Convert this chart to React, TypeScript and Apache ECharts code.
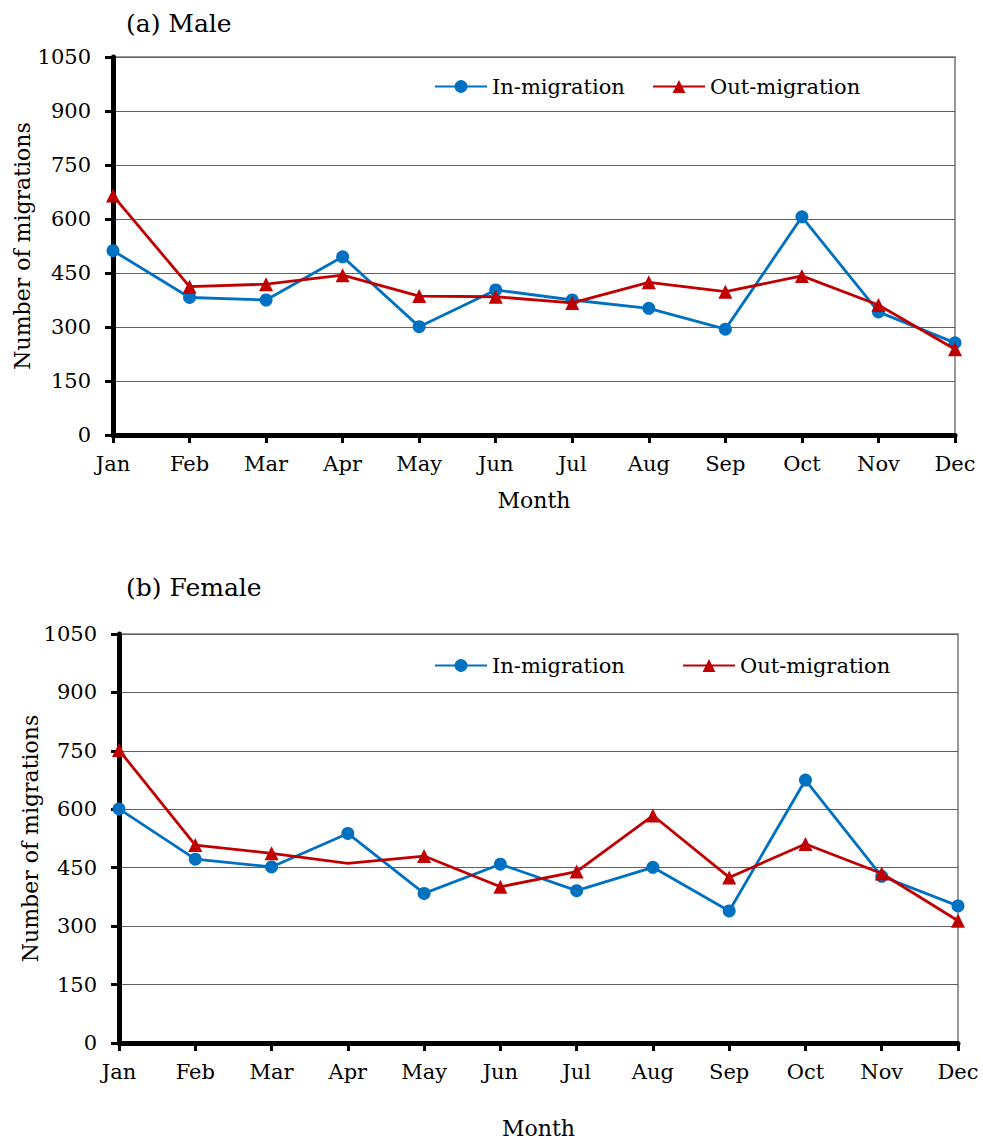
import React, { useEffect, useRef } from "react";
import * as echarts from "echarts";

const months = ["Jan", "Feb", "Mar", "Apr", "May", "Jun", "Jul", "Aug", "Sep", "Oct", "Nov", "Dec"];
const maleIn = [512, 382, 375, 495, 301, 403, 375, 352, 294, 606, 342, 256];
const maleOut = [665, 412, 419, 444, 386, 384, 367, 424, 398, 442, 361, 238];
const femaleIn = [601, 472, 452, 538, 384, 459, 391, 451, 339, 675, 428, 352];
const femaleOut = [752, 508, 487, 461, 480, 401, 440, 584, 425, 511, 435, 314];
const femaleOutNoMarker = ["Apr"];
const yMin = 0;
const yMax = 1050;
const yStep = 150;

const FONT = "DejaVu Serif";
const BLUE = "#0070C0";
const RED = "#C00000";

export default function App() {
  const ref = useRef<HTMLDivElement>(null);
  useEffect(() => {
    if (!ref.current) return;
    const chart = echarts.init(ref.current, null, { renderer: "svg" });
    const grids = [
      { left: 113, top: 57, width: 842, height: 378 },
      { left: 119, top: 634, width: 839, height: 409 },
    ];
    const xAxis = grids.map((_, i) => ({
      type: "category",
      gridIndex: i,
      data: months,
      boundaryGap: false,
      name: "Month",
      nameLocation: "middle",
      nameGap: i === 0 ? 54 : 74,
      nameMoveOverlap: false,
      nameTextStyle: { fontFamily: FONT, fontSize: 22, color: "#000" },
      axisLine: { show: true, lineStyle: { color: "#000", width: 5 } },
      axisTick: { show: true, alignWithLabel: true, length: 8, lineStyle: { color: "#000", width: 3 } },
      axisLabel: { fontFamily: FONT, fontSize: 21, color: "#000", margin: 18 },
      splitLine: { show: false },
    }));
    const yAxis = grids.map((_, i) => ({
      type: "value",
      gridIndex: i,
      min: yMin,
      max: yMax,
      interval: yStep,
      name: "Number of migrations",
      nameLocation: "middle",
      nameGap: i === 0 ? 80 : 78,
      nameMoveOverlap: false,
      nameTextStyle: { fontFamily: FONT, fontSize: 22, color: "#000" },
      axisLine: { show: true, lineStyle: { color: "#000", width: 5 } },
      axisTick: { show: true, length: 8, lineStyle: { color: "#000", width: 3 } },
      axisLabel: { fontFamily: FONT, fontSize: 21, color: "#000", margin: 22, formatter: (v: number) => String(v) },
      splitLine: { show: true, lineStyle: { color: "#606060", width: 1.2 } },
    }));
    const mkIn = (data: number[], i: number) => ({
      name: "In-migration",
      type: "line",
      xAxisIndex: i,
      yAxisIndex: i,
      data,
      symbol: "circle",
      symbolSize: 13,
      lineStyle: { color: BLUE, width: 2.8 },
      itemStyle: { color: BLUE },
      z: 3,
    });
    const mkOut = (data: any[], i: number) => ({
      name: "Out-migration",
      type: "line",
      xAxisIndex: i,
      yAxisIndex: i,
      data,
      symbol: "triangle",
      symbolSize: 14,
      lineStyle: { color: RED, width: 2.8 },
      itemStyle: { color: RED },
      z: 4,
    });
    const femaleOutData = femaleOut.map((v, k) =>
      femaleOutNoMarker.includes(months[k]) ? { value: v, symbol: "none" } : v
    );
    const legendBase = {
      itemWidth: 52,
      itemHeight: 16,
      itemGap: 6,
      textStyle: { fontFamily: FONT, fontSize: 21, color: "#000" },
      selectedMode: false,
    };
    const option: any = {
      animation: false,
      backgroundColor: "#fff",
      title: [
        { text: "(a) Male", left: 121, top: 6, textStyle: { fontFamily: FONT, fontSize: 25, fontWeight: "normal", color: "#000" } },
        { text: "(b) Female", left: 121, top: 570, textStyle: { fontFamily: FONT, fontSize: 25, fontWeight: "normal", color: "#000" } },
      ],
      grid: grids.map((g) => ({
        ...g,
        show: true,
        borderColor: "#999",
        borderWidth: 2,
        backgroundColor: "transparent",
        containLabel: false,
        outerBoundsMode: "none",
      })),
      xAxis,
      yAxis,
      legend: [
        { ...legendBase, data: ["In-migration"], left: 429, top: 71 },
        { ...legendBase, data: ["Out-migration"], left: 647, top: 71 },
        { ...legendBase, data: ["In-migration"], left: 429, top: 650 },
        { ...legendBase, data: ["Out-migration"], left: 677, top: 650 },
      ],
      series: [mkIn(maleIn, 0), mkOut(maleOut, 0), mkIn(femaleIn, 1), mkOut(femaleOutData, 1)],
    };
    chart.setOption(option);
    return () => chart.dispose();
  }, []);
  return <div ref={ref} style={{ position: "absolute", left: 0, top: 0, width: 983, height: 1144 }} />;
}
